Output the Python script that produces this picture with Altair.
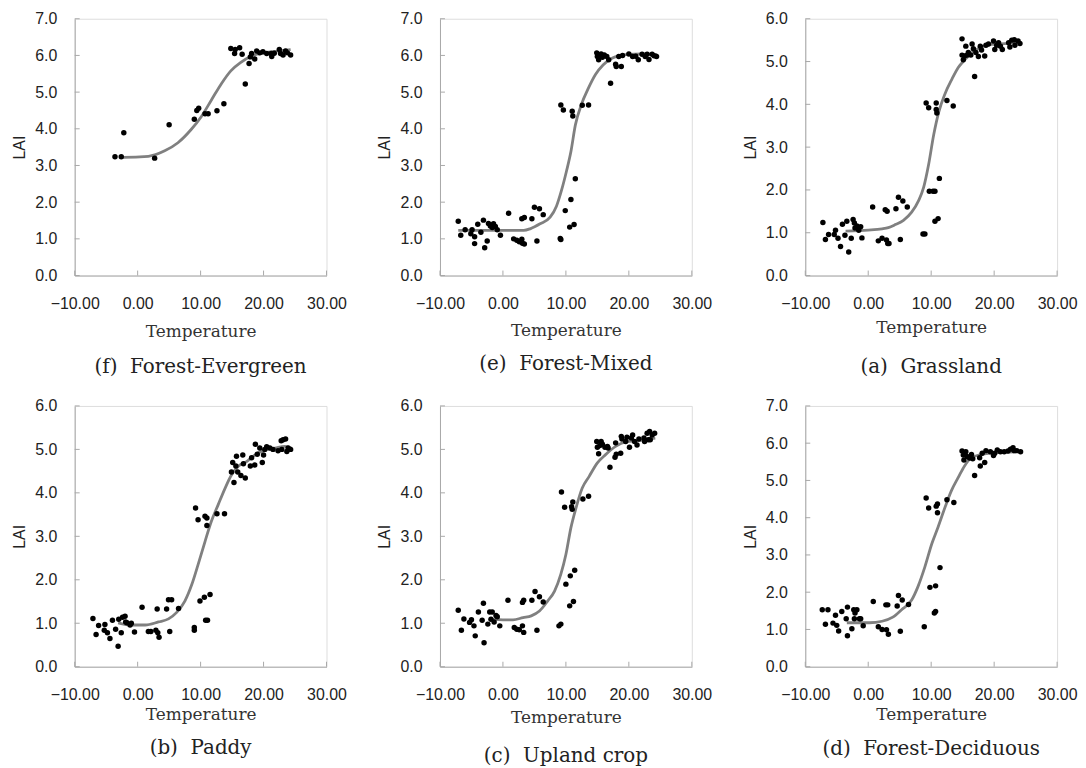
import altair as alt
import pandas as pd

# ---------------- data ----------------
x_ticks = [-10, 0, 10, 20, 30]

# (f) Forest-Evergreen
f_temp = [-3.6, -2.6, -2.2, 2.7, 5.0, 9.0, 9.4, 9.7, 10.7, 11.2, 12.6, 13.7, 14.8, 15.5, 15.4,
          16.2, 16.6, 17.1, 17.7, 17.9, 18.1, 18.6, 18.9, 19.4, 19.9, 20.5, 21.2, 21.3, 21.7,
          22.5, 22.7, 23.1, 23.5, 23.8, 24.3]
f_lai = [3.24, 3.24, 3.89, 3.20, 4.11, 4.26, 4.50, 4.56, 4.41, 4.41, 4.49, 4.68, 6.19, 6.16, 6.05,
         6.21, 6.03, 5.22, 5.78, 5.96, 6.05, 5.90, 6.12, 6.07, 6.10, 6.05, 6.05, 5.97, 6.06,
         6.16, 6.05, 6.01, 6.12, 6.07, 6.01]
f_curve_temp = [-2.8, -2.3, 1.7, 4.3, 6.4, 8.5, 10.1, 11.7, 13.3, 14.8, 16.4, 18.0, 20.1, 22.2, 24.3]
f_curve_lai = [3.22, 3.22, 3.25, 3.40, 3.62, 3.98, 4.33, 4.78, 5.23, 5.58, 5.81, 5.98, 6.07, 6.12, 6.16]

# (e) Forest-Mixed
e_temp = [-7.1, -6.7, -6.0, -5.1, -4.9, -4.5, -4.5, -4.0, -3.5, -3.1, -2.9, -2.5, -2.3, -2.0,
          -1.7, -1.5, -1.2, -0.9, -0.4, 0.9, 1.7, 2.2, 2.6, 3.0, 3.1, 3.4, 3.0, 3.4, 4.6, 5.0,
          5.4, 5.8, 6.4, 9.1, 9.2, 9.2, 9.6, 9.9, 10.6, 10.8, 11.0, 11.1, 11.3, 11.5, 12.6, 13.6,
          14.9, 15.0, 15.2, 15.6, 15.8, 16.1, 16.5, 16.8, 17.1, 17.9, 18.0, 18.8, 18.4, 19.0,
          20.0, 20.6, 21.1, 21.5, 22.1, 22.6, 22.9, 23.2, 23.7, 24.0, 24.4]
e_lai = [1.48, 1.10, 1.25, 1.14, 1.25, 1.06, 0.87, 1.40, 1.18, 1.51, 0.76, 0.94, 1.42, 1.35,
         1.31, 1.41, 1.34, 1.25, 1.10, 1.70, 1.00, 0.96, 0.92, 0.99, 0.88, 0.86, 1.55, 1.58, 1.55, 1.86,
         0.94, 1.82, 1.66, 1.01, 0.98, 4.65, 4.51, 1.77, 1.32, 2.07, 4.48, 4.35, 1.39, 2.64, 4.64, 4.65,
         6.07, 5.97, 5.88, 6.04, 5.95, 6.01, 5.97, 5.88, 5.24, 5.76, 5.70, 5.70, 5.97, 6.00,
         6.04, 5.97, 5.98, 5.88, 6.03, 5.97, 6.03, 5.89, 6.03, 5.99, 5.97]
e_curve_temp = [-7.1, 0.1, 3.3, 4.4, 5.9, 7.5, 8.5, 9.3, 10.1, 10.8, 11.5, 12.5, 13.5, 14.7,
                15.9, 17.4, 19.5, 22.2, 24.5]
e_curve_lai = [1.23, 1.23, 1.23, 1.28, 1.41, 1.59, 1.89, 2.32, 2.85, 3.38, 4.10, 4.68, 5.08, 5.48,
               5.74, 5.93, 6.02, 6.04, 6.02]

# (a) Grassland
a_temp = [-7.2, -6.8, -6.3, -5.4, -5.2, -4.8, -4.4, -4.1, -3.7, -3.4, -3.1, -2.7, -2.4, -2.2,
          -2.1, -1.8, -1.5, -1.2, -1.0, 0.7, 1.6, 2.2, 2.7, 3.0, 2.9, 3.1, 3.3, 4.4, 4.8, 5.1,
          5.5, 6.2, 8.7, 9.0, 9.2, 9.6, 9.7, 10.3, 10.6, 10.6, 10.8, 10.8, 10.9, 11.1, 11.3, 12.5,
          13.5, 14.9, 14.9, 15.1, 15.3, 15.5, 15.7, 15.9, 16.3, 16.5, 16.7, 16.9, 17.1, 17.5,
          17.8, 18.0, 18.5, 18.7, 19.1, 19.9, 20.1, 20.4, 20.7, 21.0, 21.3, 22.3, 22.5, 22.8,
          23.2, 23.3, 23.8, 24.1]
a_lai = [1.24, 0.84, 0.96, 0.96, 1.06, 0.87, 0.68, 1.20, 0.94, 1.27, 0.55, 0.87, 1.31, 1.23,
         1.11, 1.16, 1.06, 1.14, 0.88, 1.60, 0.81, 0.87, 1.54, 1.50, 0.83, 0.75, 0.75, 1.56, 1.83, 0.84,
         1.74, 1.60, 0.97, 0.97, 4.03, 3.92, 1.97, 1.97, 1.97, 1.27, 4.03, 3.88, 3.80, 1.33, 2.27, 4.09,
         3.96, 5.53, 5.15, 5.04, 5.13, 5.36, 5.15, 5.21, 5.15, 5.41, 5.30, 4.65, 5.21, 5.12,
         5.36, 5.27, 5.13, 5.38, 5.41, 5.48, 5.28, 5.38, 5.44, 5.36, 5.28, 5.44, 5.34, 5.50,
         5.51, 5.38, 5.48, 5.42]
a_curve_temp = [-3.6, 0.0, 2.2, 3.2, 4.3, 5.6, 6.9, 8.0, 8.8, 9.6, 10.4, 11.2, 12.2, 13.3, 14.3,
                15.4, 16.5, 18.0, 19.6, 21.7, 23.6]
a_curve_lai = [1.04, 1.06, 1.09, 1.12, 1.19, 1.29, 1.48, 1.75, 2.06, 2.60, 3.29, 3.82, 4.25, 4.59,
               4.86, 5.05, 5.21, 5.34, 5.40, 5.42, 5.44]

# (b) Paddy
b_temp = [-7.1, -6.6, -6.2, -5.3, -5.2, -4.8, -4.4, -4.0, -3.5, -3.1, -3.0, -2.6, -2.4, -2.0,
          -1.9, -1.7, -1.2, -1.0, -0.5, 0.7, 1.7, 2.1, 2.9, 3.1, 3.2, 3.4, 4.6, 4.9, 5.1, 5.4,
          6.5, 9.0, 9.0, 9.2, 9.6, 9.9, 10.6, 10.7, 10.8, 11.0, 11.0, 11.1, 11.5, 12.6, 13.8,
          14.9, 15.1, 15.3, 15.6, 15.7, 15.9, 16.4, 16.7, 16.8, 17.1, 17.9, 18.1, 18.6, 18.7,
          19.0, 19.4, 19.8, 20.0, 20.2, 20.5, 21.0, 21.5, 22.3, 22.8, 22.9, 23.1, 23.5, 23.7,
          23.9, 24.3]
b_lai = [1.11, 0.74, 0.95, 0.84, 0.97, 0.78, 0.65, 1.07, 0.86, 0.47, 1.09, 0.78, 1.14, 1.16,
         1.03, 1.01, 0.96, 1.00, 0.80, 1.37, 0.81, 0.81, 0.84, 1.33, 0.78, 0.68, 1.33, 1.54, 0.81, 1.54,
         1.34, 0.90, 0.84, 3.65, 3.38, 1.51, 1.60, 3.46, 1.07, 3.42, 3.25, 1.07, 1.66, 3.52, 3.52,
         4.48, 4.70, 4.24, 4.62, 4.84, 4.48, 4.40, 4.87, 4.67, 4.34, 4.62, 4.81, 4.64, 5.12,
         4.89, 5.03, 4.70, 4.87, 5.00, 5.06, 5.03, 5.00, 4.97, 5.20, 5.00, 5.22, 5.24, 4.95,
         5.03, 5.00]
b_curve_temp = [-3.1, -1.0, 1.2, 3.3, 4.9, 6.2, 7.5, 8.6, 9.6, 10.7, 11.7, 12.8, 13.9, 14.9,
                16.0, 17.3, 18.6, 20.2, 21.8, 23.4, 24.4]
b_curve_lai = [1.01, 0.96, 0.96, 1.03, 1.10, 1.25, 1.51, 1.89, 2.35, 2.88, 3.34, 3.73, 4.11, 4.41,
               4.61, 4.72, 4.87, 4.99, 5.03, 5.07, 5.03]

# (c) Upland crop
c_temp = [-7.1, -6.6, -6.2, -5.3, -5.0, -4.6, -4.4, -3.9, -3.3, -3.1, -3.0, -2.4, -2.1, -1.9,
          -1.7, -1.4, -1.1, -0.9, -0.5, 0.8, 1.8, 2.2, 2.6, 3.1, 3.3, 3.1, 3.3, 4.6, 5.1, 5.4,
          5.8, 6.4, 8.9, 9.2, 9.3, 9.8, 10.0, 10.6, 10.7, 10.9, 11.1, 11.0, 11.2, 11.4, 12.7, 13.6,
          14.9, 15.0, 15.2, 15.4, 15.6, 15.8, 16.2, 16.6, 16.7, 17.0, 17.9, 17.8, 18.0, 18.8,
          18.7, 18.9, 19.5, 19.7, 20.1, 20.4, 20.6, 20.9, 21.3, 21.6, 22.4, 22.5, 22.9, 23.1,
          23.3, 23.4, 23.7, 24.1]
c_lai = [1.30, 0.84, 1.10, 1.02, 1.08, 0.94, 0.71, 1.26, 1.07, 1.46, 0.55, 0.98, 1.26, 1.09,
         1.26, 1.03, 1.18, 1.15, 0.94, 1.53, 0.90, 0.86, 0.85, 0.94, 0.79, 1.48, 1.53, 1.53, 1.73, 0.84,
         1.61, 1.49, 0.94, 0.98, 4.02, 3.67, 1.90, 1.40, 2.09, 3.68, 3.79, 3.62, 1.50, 2.22, 3.86, 3.92,
         5.18, 5.05, 4.90, 5.09, 5.18, 5.12, 5.05, 5.07, 5.03, 4.59, 5.15, 4.82, 4.89, 5.30,
         4.91, 5.24, 5.18, 5.28, 5.05, 5.26, 5.33, 5.18, 5.10, 5.24, 5.26, 5.18, 5.37, 5.22,
         5.41, 5.22, 5.33, 5.37]
c_curve_temp = [-1.6, 0.0, 1.6, 3.2, 4.5, 5.8, 7.1, 8.2, 9.2, 10.0, 10.8, 11.6, 12.6, 13.7, 15.0,
                16.3, 17.9, 19.5, 21.6, 23.2, 24.2]
c_curve_lai = [1.09, 1.08, 1.08, 1.13, 1.17, 1.28, 1.51, 1.74, 2.13, 2.58, 3.20, 3.65, 4.11, 4.38,
               4.69, 4.88, 5.07, 5.17, 5.20, 5.24, 5.26]

# (d) Forest-Deciduous
d_temp = [-7.3, -6.8, -6.4, -5.6, -5.2, -5.0, -4.7, -4.2, -3.5, -3.3, -3.3, -2.6, -2.3, -2.2,
          -2.1, -1.8, -1.4, -1.2, -0.8, 0.8, 1.6, 2.2, 2.8, 3.1, 2.9, 3.2, 4.6, 4.8, 5.1, 5.4,
          6.4, 8.9, 9.2, 9.6, 9.8, 10.5, 10.7, 10.7, 10.8, 11.0, 11.0, 11.4, 12.5, 13.6,
          14.9, 15.1, 15.2, 15.5, 15.7, 16.1, 16.4, 16.6, 16.9, 17.7, 17.8, 18.1, 18.5, 18.7,
          19.4, 19.9, 20.1, 20.5, 21.0, 21.6, 22.2, 22.6, 23.0, 23.2, 23.6, 24.2]
d_lai = [1.53, 1.14, 1.53, 1.17, 1.38, 1.11, 0.96, 1.48, 1.29, 1.60, 0.83, 1.02, 1.53, 1.29,
         1.44, 1.53, 1.29, 1.29, 1.10, 1.75, 1.07, 1.00, 1.66, 1.66, 0.99, 0.87, 1.63, 1.91, 0.95, 1.79,
         1.67, 1.07, 4.53, 4.26, 2.13, 1.44, 2.17, 1.48, 4.31, 4.37, 4.13, 2.66, 4.48, 4.41,
         5.79, 5.68, 5.55, 5.77, 5.64, 5.60, 5.70, 5.58, 5.13, 5.61, 5.39, 5.73, 5.48, 5.80,
         5.77, 5.67, 5.73, 5.82, 5.77, 5.77, 5.79, 5.84, 5.88, 5.80, 5.80, 5.77]
d_curve_temp = [-3.4, 0.2, 2.2, 3.9, 5.3, 6.9, 7.9, 9.0, 10.1, 11.1, 12.2, 13.2, 14.3, 15.3,
                16.4, 18.0, 19.2, 21.3, 23.4]
d_curve_lai = [1.18, 1.18, 1.22, 1.33, 1.53, 1.79, 2.15, 2.68, 3.30, 3.75, 4.28, 4.72, 5.08, 5.39,
               5.61, 5.70, 5.73, 5.75, 5.77]

captions = ["(f)\u00a0 Forest-Evergreen", "(e)\u00a0 Forest-Mixed", "(a)\u00a0 Grassland",
            "(b)\u00a0 Paddy", "(c)\u00a0 Upland crop", "(d)\u00a0 Forest-Deciduous"]
y_max = [7, 7, 6, 6, 6, 7]

# ---------------- styling ----------------
W = 253
AXIS_GRAY = "#a8a8a8"
TEXT = "#222222"
SANS = "Liberation Sans"
SERIF = "DejaVu Serif"
# per-panel (plot height, x-title padding, caption offset)
layout = [(258, 12, 18), (258, 11, 16), (258, 8, 22),
          (262, 4, 16), (262, 7, 21), (262, 4, 17)]

series = [
    (f_temp, f_lai, f_curve_temp, f_curve_lai),
    (e_temp, e_lai, e_curve_temp, e_curve_lai),
    (a_temp, a_lai, a_curve_temp, a_curve_lai),
    (b_temp, b_lai, b_curve_temp, b_curve_lai),
    (c_temp, c_lai, c_curve_temp, c_curve_lai),
    (d_temp, d_lai, d_curve_temp, d_curve_lai),
]


def panel(caption, t, lai, ct, cl, ymax, H, tpad, coff):
    y_ticks = [float(v) for v in range(ymax + 1)]
    xaxis = alt.Axis(values=x_ticks, format=".2f", title="Temperature", labelFlush=False,
                     labelOverlap=False, ticks=False, labelPadding=20, titlePadding=tpad,
                     grid=False, domainColor=AXIS_GRAY, labelFont=SANS, labelFontSize=16,
                     labelColor=TEXT, titleFont=SERIF, titleFontSize=17,
                     titleFontWeight="normal", titleColor="#333333")
    yaxis = alt.Axis(values=y_ticks, format=".1f", title="LAI", ticks=False, labelPadding=18,
                     titlePadding=7, grid=False, domainColor=AXIS_GRAY, labelFont=SANS,
                     labelFontSize=16, labelColor=TEXT, titleFont=SANS, titleFontSize=16,
                     titleFontWeight="normal", titleColor=TEXT)
    X = alt.X("T:Q", scale=alt.Scale(domain=[-10, 30], nice=False, zero=False), axis=xaxis)
    Y = alt.Y("LAI:Q", scale=alt.Scale(domain=[0, ymax], nice=False), axis=yaxis)

    ytk = alt.Chart(pd.DataFrame({"LAI": y_ticks})).mark_rule(color=AXIS_GRAY).encode(
        y=Y, x=alt.value(0), x2=alt.value(5))
    xtk = alt.Chart(pd.DataFrame({"T": x_ticks})).mark_rule(color=AXIS_GRAY).encode(
        x=X, y=alt.value(H), y2=alt.value(H - 5))
    crv = alt.Chart(pd.DataFrame({"T": ct, "LAI": cl})).mark_line(
        color="#808080", strokeWidth=2.8, interpolate="monotone").encode(x=X, y=Y)
    pts = alt.Chart(pd.DataFrame({"T": t, "LAI": lai})).mark_circle(
        size=30, color="black", opacity=1).encode(x=X, y=Y)
    return alt.layer(ytk, xtk, crv, pts).properties(
        width=W, height=H,
        title=alt.TitleParams(caption, orient="bottom", anchor="middle", offset=coff,
                              font=SERIF, fontSize=20, fontWeight="normal", color=TEXT))


charts = [panel(captions[i], *series[i], y_max[i], *layout[i]) for i in range(6)]

chart = alt.ConcatChart(
    concat=charts, columns=3, spacing={"row": 131, "column": 114}, bounds="flush"
).properties(
    padding={"left": 3, "top": 0, "right": 0, "bottom": 5}
).configure_view(stroke=None).configure(background="white")

chart.save("out.html", embed_options={"renderer": "svg", "actions": False})
